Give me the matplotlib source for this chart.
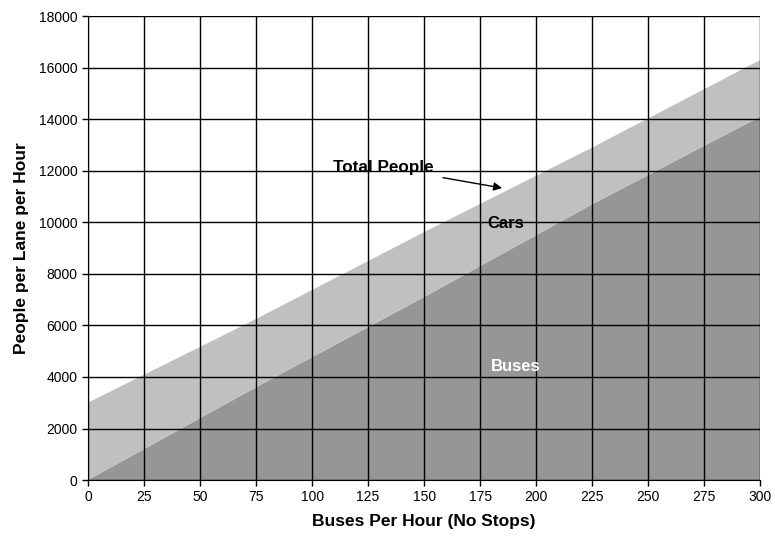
import matplotlib
matplotlib.use("Agg")
import matplotlib.pyplot as plt

plt.rcParams['font.family'] = ['Liberation Sans', 'DejaVu Sans']

# buses per hour
buses_per_hour = [0, 75, 150, 225, 300]
# people carried per lane per hour
bus_people = [0, 3600, 7100, 10700, 14100]
car_people = [3000, 2650, 2520, 2200, 2200]

fig = plt.figure(figsize=(7.75, 5.37), dpi=100)
ax = fig.add_axes([0.1135, 0.106, 0.8675, 0.864])

ax.stackplot(buses_per_hour, bus_people, car_people,
             colors=["#969696", "#c0c0c0"], linewidth=0, zorder=1)

ax.set_xlim(0, 300)
ax.set_ylim(0, 18000)
ax.set_xticks(range(0, 301, 25))
ax.set_yticks(range(0, 18001, 2000))
ax.grid(True, color="black", linewidth=1.0, zorder=2)
ax.set_axisbelow(False)
for s in ["top", "right"]:
    ax.spines[s].set_visible(False)
ax.tick_params(direction="out", length=4, width=1, labelsize=10)

ax.set_xlabel("Buses Per Hour (No Stops)", fontsize=12.5, fontweight="bold", labelpad=7)
ax.set_ylabel("People per Lane per Hour", fontsize=12.5, fontweight="bold", labelpad=7)

ax.annotate("Total People", xy=(184.8, 11330), xytext=(131.7, 12140),
            ha="center", va="center", fontsize=12.3, fontweight="bold",
            arrowprops=dict(arrowstyle="-|>", color="black", lw=1,
                            shrinkA=5, shrinkB=0), zorder=5)
ax.text(186.6, 9970, "Cars", ha="center", va="center",
        fontsize=12, fontweight="bold", zorder=5)
ax.text(191, 4420, "Buses", ha="center", va="center",
        fontsize=12, fontweight="bold", color="white", zorder=5)

fig.savefig("out.png", dpi=100)
